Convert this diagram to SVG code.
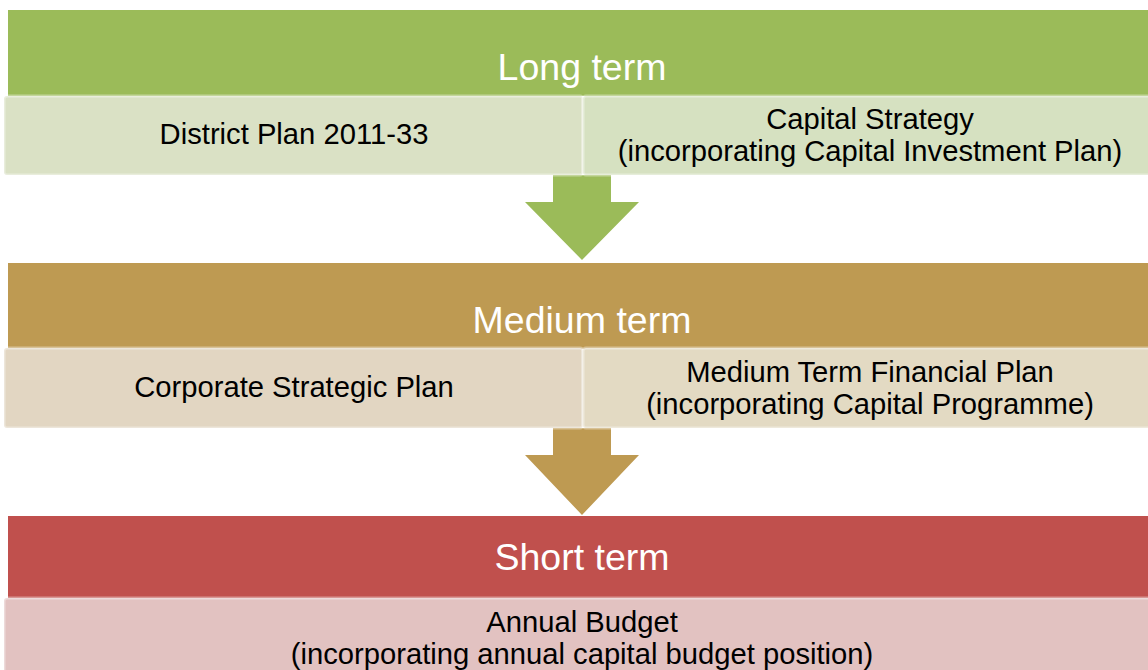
<svg xmlns="http://www.w3.org/2000/svg" width="1148" height="670" viewBox="0 0 1148 670">
<style>
.hdr{font-family:"Liberation Sans",Arial,sans-serif;font-size:37.5px;fill:#ffffff;text-anchor:middle}
.lbl{font-family:"Liberation Sans",Arial,sans-serif;font-size:29.2px;fill:#000000;text-anchor:middle}
.sub{stroke:#ffffff;stroke-opacity:0.4;stroke-width:3}
</style>
<rect width="1148" height="670" fill="#ffffff"/>
<g id="connectors">
<path id="arrow1" d="M553,175 H611 V202 H639 L582,260 L525,202 H553 Z" fill="#9BBB59"/>
<path id="arrow2" d="M553,428 H611 V455 H639 L582,515 L525,455 H553 Z" fill="#BE9A52"/>
</g>
<g id="long-term">
<rect x="8" y="10" width="1145" height="86" fill="#9BBB59"/>
<text class="hdr" x="582" y="80">Long term</text>
</g>
<g id="district-plan">
<rect class="sub" x="4" y="96" width="579" height="79" rx="3" fill="#DAE1C5"/>
<text class="lbl" x="294" y="144">District Plan 2011-33</text>
</g>
<g id="capital-strategy">
<rect class="sub" x="583" y="96" width="570" height="79" rx="3" fill="#D6E1C1"/>
<text class="lbl" x="870" y="129">Capital Strategy</text>
<text class="lbl" x="870" y="161">(incorporating Capital Investment Plan)</text>
</g>
<g id="medium-term">
<rect x="8" y="263" width="1145" height="86" fill="#BE9A52"/>
<text class="hdr" x="582" y="333">Medium term</text>
</g>
<g id="corporate-strategic-plan">
<rect class="sub" x="4" y="348" width="579" height="80" rx="3" fill="#E2D6C2"/>
<text class="lbl" x="294" y="397">Corporate Strategic Plan</text>
</g>
<g id="mtfp">
<rect class="sub" x="583" y="348" width="570" height="80" rx="3" fill="#E3DAC3"/>
<text class="lbl" x="870" y="382">Medium Term Financial Plan</text>
<text class="lbl" x="870" y="414">(incorporating Capital Programme)</text>
</g>
<g id="short-term">
<rect x="8" y="516" width="1145" height="82" fill="#C0504D"/>
<text class="hdr" x="582" y="570">Short term</text>
</g>
<g id="annual-budget">
<rect class="sub" x="4" y="598" width="1149" height="80" rx="3" fill="#E2C2C1"/>
<text class="lbl" x="582" y="632">Annual Budget</text>
<text class="lbl" x="582" y="664">(incorporating annual capital budget position)</text>
</g>
</svg>
